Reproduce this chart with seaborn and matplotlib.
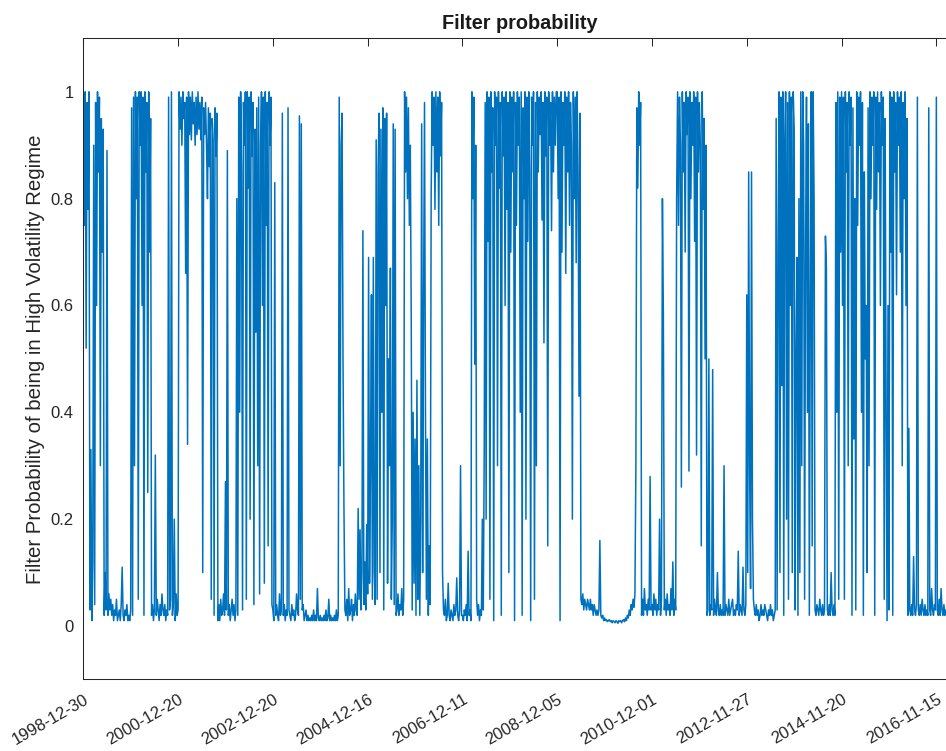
import numpy as np
import pandas as pd
import matplotlib
matplotlib.use("Agg")
import matplotlib.pyplot as plt
import seaborn as sns

# x axis: trading-day index, a date label every 500 observations
tick_dates = ["1998-12-30", "2000-12-20", "2002-12-20", "2004-12-16", "2006-12-11",
              "2008-12-05", "2010-12-01", "2012-11-27", "2014-11-20", "2016-11-15"]
obs_per_tick = 500
step = 5

# filter probability of the high volatility regime, one list per tick interval
p_1999_2000 = [0.99, 0.75, 1.0, 0.52, 0.98, 0.78, 1.0,
               0.03, 0.33, 0.01, 0.12,
               0.9, 0.04, 0.98, 0.6, 1.0, 0.85, 0.99, 0.3, 0.95, 0.7, 0.93, 0.02, 0.1, 0.03, 0.89, 0.02, 0.06,
               0.03, 0.05, 0.02, 0.04, 0.01, 0.03, 0.02, 0.05, 0.01, 0.02, 0.03, 0.01, 0.04, 0.11, 0.02, 0.01,
               0.03, 0.02, 0.04, 0.01, 0.02, 0.01, 0.03,
               0.97, 0.02, 0.99, 0.3, 1.0, 0.8, 0.99, 0.05, 1.0, 0.9, 1.0, 0.6, 0.99, 0.02, 1.0, 0.85, 0.98,
               0.25, 1.0, 0.7, 0.95,
               0.02, 0.04, 0.01, 0.03, 0.32, 0.02, 0.05, 0.03, 0.01, 0.04, 0.02, 0.06, 0.03, 0.02, 0.04, 0.01,
               0.03, 0.02, 0.99, 0.03, 0.05, 1.0, 0.02, 0.04, 0.2, 0.01, 0.06, 0.02]

p_2001_2002 = [0.03, 1.0, 0.93, 0.99, 0.9, 1.0, 0.95, 0.98, 0.66, 0.99, 0.34, 1.0, 0.92, 0.99, 0.91, 1.0,
               0.94, 0.98, 0.9, 0.99, 0.92, 1.0, 0.93, 0.98, 0.91, 0.99, 0.1, 0.97, 0.92, 0.98, 0.9, 0.8,
               0.97, 0.86, 0.96, 0.05, 0.95, 0.91, 0.02, 0.97, 0.88, 0.96, 0.01,
               0.04, 0.01, 0.05, 0.02, 0.03, 0.06, 0.02, 0.27, 0.03, 0.89, 0.02, 0.04, 0.01, 0.03, 0.05, 0.02,
               0.04, 0.01, 0.03,
               0.8, 0.02, 0.99, 0.4, 1.0, 0.85, 0.03, 0.98, 0.9, 1.0, 0.05, 1.0, 0.82, 0.99, 0.2, 1.0, 0.88,
               0.98, 0.04, 0.93, 0.55, 0.97, 0.3, 0.99, 0.06, 0.9, 1.0, 0.6, 0.99, 0.08, 1.0, 0.75, 0.98, 0.15,
               1.0, 0.9, 0.99, 0.04]

p_2003_2004 = [0.03, 0.01, 0.83, 0.02, 0.04, 0.02, 0.01, 0.06, 0.02, 0.03, 0.96, 0.02, 0.04, 0.01, 0.03,
               0.02, 0.97, 0.03, 0.02, 0.01, 0.04, 0.02, 0.03, 0.01, 0.02, 0.06, 0.03, 0.02, 0.955, 0.05, 0.94,
               0.03, 0.04,
               0.01, 0.02, 0.03, 0.01, 0.02, 0.01, 0.015, 0.01, 0.02, 0.01, 0.03, 0.01, 0.02, 0.01, 0.07, 0.015,
               0.01, 0.02, 0.01, 0.015, 0.01, 0.02, 0.01, 0.03, 0.01, 0.015, 0.05, 0.01, 0.02, 0.01, 0.015, 0.01,
               0.02, 0.01, 0.03, 0.01,
               0.02, 0.99, 0.3, 0.9, 0.96, 0.5, 0.22, 0.03,
               0.02, 0.05, 0.01, 0.07, 0.02, 0.03, 0.05, 0.01, 0.04, 0.02, 0.06, 0.03, 0.02,
               0.22, 0.05, 0.18, 0.03, 0.1, 0.74, 0.04, 0.12, 0.03, 0.19]

p_2005_2006 = [0.06, 0.69, 0.08, 0.3, 0.62, 0.05, 0.69, 0.1, 0.04,
               0.91, 0.05, 0.85, 0.96, 0.1, 0.93, 0.4, 0.97, 0.03, 0.95, 0.6, 0.96, 0.08, 0.5, 0.3, 0.67, 0.05,
               0.2, 0.94, 0.04, 0.93, 0.02,
               0.03, 0.06, 0.02, 0.04, 0.03, 0.07, 0.02, 0.05,
               1.0, 0.85, 0.99, 0.8, 0.97, 0.75, 0.9,
               0.57, 0.03, 0.4, 0.08, 0.35, 0.02, 0.46, 0.05, 0.3, 0.02, 0.2,
               0.94, 0.1, 0.6, 0.98, 0.4, 0.05,
               0.35, 0.02, 0.15, 0.04,
               0.8, 1.0, 0.9, 0.99, 0.78, 1.0, 0.85, 0.99, 0.75, 1.0, 0.88, 0.98, 0.1,
               0.03, 0.02, 0.05, 0.01, 0.02, 0.08, 0.02, 0.01, 0.03, 0.02, 0.01, 0.04, 0.02, 0.03, 0.09, 0.02,
               0.01, 0.03, 0.3, 0.02]

p_2007_2008 = [0.02, 0.01, 0.03, 0.02, 0.04, 0.01, 0.14, 0.02, 0.03, 0.01,
               1.0, 0.8, 0.99, 0.49, 0.9, 0.05,
               0.02, 0.04, 0.01, 0.03, 0.02, 0.2, 0.03, 0.33,
               0.98, 0.2, 1.0, 0.72, 0.99, 0.05, 1.0, 0.85, 0.97, 0.01,
               1.0, 0.9, 0.99, 0.3, 1.0, 0.82, 0.98, 0.02, 1.0, 0.88,
               0.99, 0.6, 1.0, 0.78, 0.98, 0.1, 1.0, 0.7, 0.99, 0.85,
               1.0, 0.01, 0.98, 0.75, 1.0, 0.9, 0.99, 0.4, 1.0, 0.02,
               0.97, 0.8, 1.0, 0.2, 0.99, 0.72, 1.0, 0.85, 0.01, 0.99,
               0.9, 1.0, 0.05, 0.98, 0.3, 1.0, 0.85, 0.99, 0.92, 1.0,
               0.76, 0.98, 0.53, 1.0, 0.88, 0.99, 0.15, 1.0, 0.9, 0.98,
               0.74, 1.0, 0.85, 0.99, 0.9, 1.0]

p_2009_2010 = [1.0, 0.8, 0.99, 0.01, 1.0, 0.7, 0.98, 0.9, 1.0, 0.66, 0.99, 0.85, 1.0, 0.75, 0.98, 0.9, 0.2,
               1.0, 0.8, 0.99, 0.68, 1.0, 0.85, 0.43, 0.96, 0.05,
               0.04, 0.06, 0.03, 0.05, 0.04, 0.03, 0.05, 0.04, 0.03, 0.05,
               0.03, 0.04, 0.02, 0.04, 0.03, 0.02, 0.03, 0.02, 0.03, 0.16,
               0.02, 0.015, 0.02, 0.01, 0.015, 0.01, 0.012, 0.008, 0.01, 0.012,
               0.008, 0.01, 0.006, 0.01, 0.008, 0.006, 0.01, 0.008, 0.005, 0.01,
               0.008, 0.01, 0.006, 0.01, 0.012, 0.008, 0.015, 0.01, 0.02, 0.015,
               0.03, 0.02, 0.04, 0.03, 0.05, 0.035, 0.06,
               0.3, 0.97, 0.82, 1.0, 0.9, 0.98, 0.02,
               0.05, 0.02, 0.07, 0.03, 0.04, 0.02, 0.05, 0.03, 0.28, 0.03]

p_2011_2012 = [0.04, 0.02, 0.06, 0.03, 0.05, 0.02, 0.04, 0.03, 0.2, 0.02, 0.05, 0.8, 0.58, 0.03, 0.05, 0.02,
               0.06, 0.03, 0.04, 0.02, 0.07, 0.03, 0.12, 0.02, 0.05, 0.03,
               0.8, 1.0, 0.75, 0.99, 0.9, 0.26, 1.0, 0.85, 0.98, 0.7,
               1.0, 0.92, 0.99, 0.29, 1.0, 0.8, 0.98, 0.9, 1.0, 0.72,
               0.99, 0.32, 1.0, 0.85, 0.98, 0.9, 0.15, 1.0, 0.78, 0.95, 0.5, 0.9, 0.02,
               0.03, 0.5, 0.02, 0.04, 0.03, 0.48, 0.02, 0.05, 0.03, 0.02,
               0.1, 0.03, 0.02, 0.04, 0.02, 0.03, 0.02, 0.3, 0.02, 0.04,
               0.03, 0.02, 0.05, 0.02, 0.03, 0.04, 0.05, 0.02, 0.03, 0.02,
               0.04, 0.03, 0.14, 0.02, 0.04, 0.03, 0.02, 0.11, 0.03, 0.02, 0.04]

p_2013_2014 = [0.62, 0.1, 0.85, 0.3, 0.07, 0.85, 0.2, 0.05,
               0.03, 0.02, 0.04, 0.02, 0.03, 0.01, 0.02, 0.04, 0.02, 0.03, 0.02, 0.04, 0.03, 0.02, 0.01, 0.03,
               0.02, 0.04, 0.02, 0.03, 0.01, 0.02, 0.03,
               0.95, 0.03, 0.7, 1.0, 0.1, 0.99, 0.45, 1.0, 0.02, 0.9,
               1.0, 0.2, 0.98, 0.05, 1.0, 0.6, 0.99, 0.1, 1.0, 0.93,
               0.03, 0.5, 0.69, 0.02, 0.8, 0.1, 1.0, 0.3, 1.0, 0.9,
               0.05, 0.7, 0.99, 0.4, 0.94, 0.02, 0.6, 1.0, 0.15, 1.0, 0.8, 0.03,
               0.02, 0.04, 0.03, 0.02, 0.05, 0.03, 0.02, 0.04, 0.02, 0.03, 0.73, 0.67, 0.03, 0.02, 0.04, 0.02,
               0.1, 0.03, 0.02, 0.04, 0.02,
               0.98, 0.4, 1.0, 0.05, 0.99, 0.7]

p_2015_2016 = [1.0, 0.6, 0.99, 0.05, 1.0, 0.85, 0.98, 0.3, 1.0, 0.9,
               0.99, 0.02, 0.97, 0.35, 0.8, 0.03, 1.0, 0.75, 0.99, 0.9,
               1.0, 0.4, 0.98, 0.02, 0.85, 0.5, 0.6, 0.1, 0.97, 0.3,
               1.0, 0.8, 0.99, 0.9, 1.0, 0.02, 0.99, 0.78, 1.0, 0.85,
               0.98, 0.6, 1.0, 0.9, 0.99, 0.05, 0.95, 0.4, 0.01, 0.6,
               0.03, 1.0, 0.7, 0.99, 0.02, 1.0, 0.85, 0.98, 0.62, 1.0,
               0.9, 0.99, 0.7, 1.0, 0.3, 0.98, 0.8, 1.0, 0.6, 0.95, 0.02,
               0.37, 0.03, 0.02, 0.04, 0.02, 0.13, 0.03, 0.02, 0.04, 0.99,
               0.03, 0.02, 0.04, 0.02, 0.05, 0.03, 0.02, 0.04, 0.02, 0.03,
               0.02, 0.97, 0.03, 0.02, 0.07, 0.03, 0.02, 0.04, 0.03]

p_2017 = [0.99, 0.03, 0.02, 0.05, 0.02, 0.07, 0.03, 0.02, 0.04, 0.02, 0.03, 0.02, 0.04, 0.02, 0.03,
          0.02, 0.05, 0.03, 0.02, 0.03, 0.02]

prob = np.concatenate([p_1999_2000, p_2001_2002, p_2003_2004, p_2005_2006, p_2007_2008,
                       p_2009_2010, p_2011_2012, p_2013_2014, p_2015_2016, p_2017])
df = pd.DataFrame({"obs": np.arange(len(prob)) * step, "prob": prob})

sns.set_style("white")
plt.rcParams["font.family"] = ["Liberation Sans", "DejaVu Sans"]
axis_col = "#262626"

fig = plt.figure(figsize=(9.46, 7.51), dpi=100)
# axes run past the right edge of the picture, as in the reference crop
ax = fig.add_axes([83.3 / 946, 71.6 / 751, 872 / 946, 641 / 751])

sns.lineplot(data=df, x="obs", y="prob", ax=ax, color="#0072BD", linewidth=1.1,
             estimator=None, sort=False)

ax.set_xlim(0, df["obs"].max())
ax.set_ylim(-0.1, 1.1)
ax.set_xticks(np.arange(len(tick_dates)) * obs_per_tick)
ax.set_xticklabels(tick_dates, rotation=30, ha="right", va="top", rotation_mode="anchor")
ax.set_yticks([0, 0.2, 0.4, 0.6, 0.8, 1.0])
ax.set_yticklabels(["0", "0.2", "0.4", "0.6", "0.8", "1"])

ax.tick_params(direction="in", length=5.5, width=0.75, top=True, right=True,
               colors=axis_col, labelsize=12, pad=7)
ax.tick_params(axis="x", pad=9)
for sp in ax.spines.values():
    sp.set_color(axis_col)
    sp.set_linewidth(0.75)

ax.set_xlabel("")
ax.set_ylabel("Filter Probability of being in High Volatility Regime", fontsize=14.7,
              color=axis_col, labelpad=4)
ax.set_title("Filter probability", fontsize=14.3, fontweight="bold", color="#1a1a1a", pad=7)

fig.savefig("out.png", dpi=100)
